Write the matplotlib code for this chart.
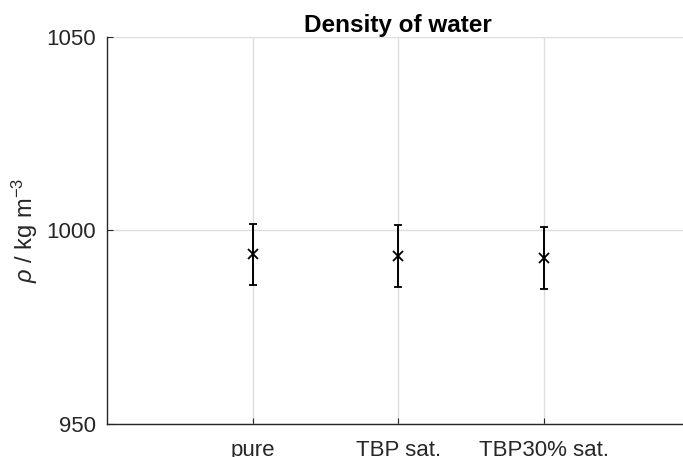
import matplotlib
matplotlib.use("Agg")
import matplotlib.pyplot as plt

categories = ["pure", "TBP sat.", "TBP30% sat."]
density = [993.8, 993.3, 992.9]
err = [7.9, 8.0, 8.0]
yticks = [950, 1000, 1050]

plt.rcParams['font.family'] = ['Liberation Sans', 'DejaVu Sans']
plt.rcParams['mathtext.fontset'] = 'custom'
plt.rcParams['mathtext.it'] = 'Liberation Sans:italic'
plt.rcParams['mathtext.rm'] = 'Liberation Sans'

dark = '#262626'
fig = plt.figure(figsize=(6.83, 4.57), dpi=100)
ax = fig.add_axes([0.1562, 0.0729, 1.0103 - 0.1562, 0.919 - 0.0729])

x = list(range(1, len(categories) + 1))
ax.errorbar(x, density, yerr=err, fmt='x', color='black', ecolor='black',
            markersize=7.5, markeredgewidth=1.3, elinewidth=1.4, capsize=3,
            capthick=1.4, zorder=3)

ax.set_xlim(0, 4)
ax.set_ylim(950, 1050)
ax.set_xticks(x)
ax.set_xticklabels(categories)
ax.set_yticks(yticks)
ax.grid(True, color='#dedede', linewidth=1.0)
ax.set_axisbelow(True)
for s in ['top', 'right']:
    ax.spines[s].set_visible(False)
for s in ['left', 'bottom']:
    ax.spines[s].set_color(dark)
    ax.spines[s].set_linewidth(1.0)
ax.tick_params(axis='both', direction='in', length=4, color=dark,
               labelcolor=dark, labelsize=16)
ax.tick_params(axis='x', pad=12)
ax.tick_params(axis='y', pad=8)
ax.set_ylabel(r'$\rho$ / kg m$^{-3}$', fontsize=17, color=dark, labelpad=4)
ax.set_title('Density of water', fontsize=17.5, fontweight='bold', color='black', pad=3.5)

fig.savefig('out.png', dpi=100)
